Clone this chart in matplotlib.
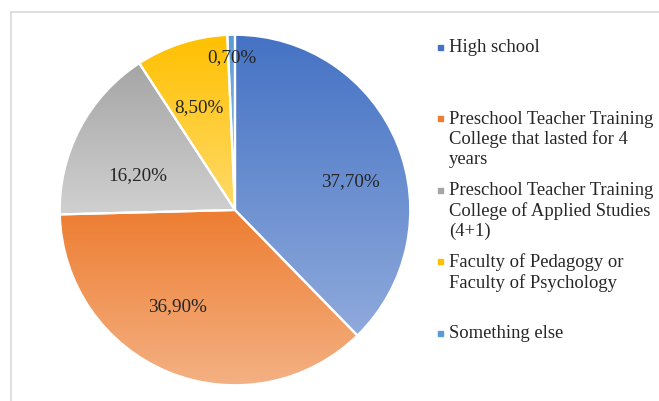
import numpy as np
import matplotlib.pyplot as plt
from matplotlib.colors import LinearSegmentedColormap
from matplotlib.lines import Line2D

# ---------- DATA ----------
categories = [
    "High school",
    "Preschool Teacher Training\nCollege that lasted for 4\nyears",
    "Preschool Teacher Training\nCollege of Applied Studies\n(4+1)",
    "Faculty of Pedagogy or\nFaculty of Psychology",
    "Something else",
]
shares = [37.7, 36.9, 16.2, 8.5, 0.7]
value_labels = ["37,70%", "36,90%", "16,20%", "8,50%", "0,70%"]

# top / bottom colours of each slice gradient
top_colors = ["#4472C4", "#ED7D31", "#A5A5A5", "#FFC000", "#5B9BD5"]
bottom_colors = ["#8FAADC", "#F4B183", "#D0D0D0", "#FFDA6A", "#9DC3E6"]

# label placement: radius and angle shift (deg) from slice middle
label_radius = [0.68, 0.64, 0.59, 0.62, 0.87]
label_shift = [-8.5, -8.5, 8.0, 1.8, 0.0]
# --------------------------

plt.rcParams["font.family"] = ["Liberation Serif", "DejaVu Serif"]

W, H = 659, 401
fig = plt.figure(figsize=(W / 100, H / 100), dpi=100)

# pie axes: centre (235, 210) px from top-left, radius 177 px
cx, cy, r = 235, 210, 177
ax = fig.add_axes([(cx - r) / W, (H - cy - r) / H, 2 * r / W, 2 * r / H])

wedges, _ = ax.pie(shares, startangle=90, counterclock=False, radius=1,
                   wedgeprops=dict(edgecolor="white", linewidth=1.6))
ax.set_aspect("equal")
ax.axis("off")

# vertical gradient fill inside each wedge
grad = np.linspace(0, 1, 256).reshape(-1, 1)
for w, c0, c1 in zip(wedges, top_colors, bottom_colors):
    w.set_facecolor("none")
    bb = w.get_path().get_extents(w.get_patch_transform())
    cmap = LinearSegmentedColormap.from_list("g", [c0, c1])
    im = ax.imshow(grad, cmap=cmap, aspect="auto", origin="upper",
                   extent=[bb.x0, bb.x1, bb.y0, bb.y1], zorder=1)
    im.set_clip_path(w)
    w.set_zorder(2)

# percentage labels
for w, txt, rad, sh in zip(wedges, value_labels, label_radius, label_shift):
    mid = np.deg2rad((w.theta1 + w.theta2) / 2 + sh)
    ax.text(rad * np.cos(mid), rad * np.sin(mid), txt, ha="center", va="center",
            fontsize=13.8, color="#262626", zorder=3)

ax.set_xlim(-1.01, 1.01)
ax.set_ylim(-1.01, 1.01)

# legend on the right
for i, (cat, col) in enumerate(zip(categories, top_colors)):
    y_px = 47 + i * 71.5
    yf = 1 - y_px / H
    fig.patches.append(plt.Rectangle((438 / W, yf - 2.5 / H), 5 / W, 5 / H,
                                     transform=fig.transFigure, color=col))
    fig.text(449 / W, yf + 8 / H, cat, ha="left", va="top", fontsize=13.4,
             color="#262626", linespacing=1.22)

# chart area border (left and top edges)
fig.lines.append(Line2D([11 / W, 11 / W], [0, 1 - 12 / H], color="#D9D9D9",
                        lw=1.2, transform=fig.transFigure))
fig.lines.append(Line2D([11 / W, 1], [1 - 12 / H, 1 - 12 / H], color="#D9D9D9",
                        lw=1.2, transform=fig.transFigure))

fig.savefig("out.png", dpi=100)
